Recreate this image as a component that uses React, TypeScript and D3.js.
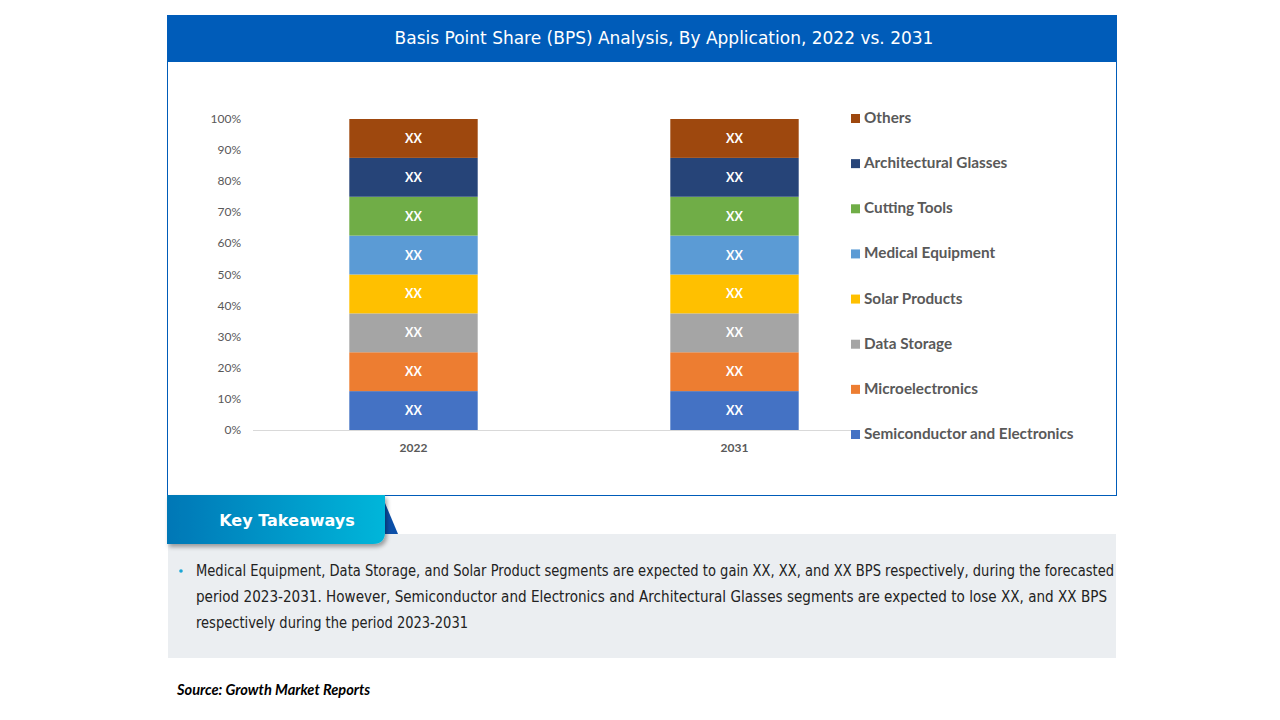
import * as d3 from "d3";

const years = ["2022", "2031"];
const segments = [
  "Semiconductor and Electronics",
  "Microelectronics",
  "Data Storage",
  "Solar Products",
  "Medical Equipment",
  "Cutting Tools",
  "Architectural Glasses",
  "Others",
];
const colors = ["#4472C4", "#ED7D31", "#A5A5A5", "#FFC000", "#5B9BD5", "#70AD47", "#264478", "#9E480E"];
// share (%) per segment, same order as segments
const share2022 = [12.5, 12.5, 12.5, 12.5, 12.5, 12.5, 12.5, 12.5];
const share2031 = [12.5, 12.5, 12.5, 12.5, 12.5, 12.5, 12.5, 12.5];
const yTicks = [0, 10, 20, 30, 40, 50, 60, 70, 80, 90, 100];

const takeawayLines = [
  "Medical Equipment, Data Storage, and Solar Product segments are expected to gain XX, XX, and XX BPS respectively, during the forecasted",
  "period 2023-2031. However, Semiconductor and Electronics and Architectural Glasses segments are expected to lose XX, and XX BPS",
  "respectively during the period 2023-2031",
];
const lineWidths = [918, 911, 272];

export default function App() {
  const rows = years.map((y, i) => {
    const vals = i === 0 ? share2022 : share2031;
    const r: any = { year: y };
    segments.forEach((s, j) => (r[s] = vals[j]));
    return r;
  });
  const stack = d3.stack().keys(segments)(rows);

  const x = d3.scaleBand().domain(years).range([253, 895]);
  const y = d3.scaleLinear().domain([0, 100]).range([430, 119]);
  const barW = x.bandwidth() * 0.4;

  const legendY = d3.scalePoint().domain([...segments].reverse()).range([118, 434]);

  const lato = "Lato, 'Noto Sans', sans-serif";
  const dv = "'DejaVu Sans', sans-serif";

  return (
    <svg width={1280} height={720} style={{ position: "absolute", left: 0, top: 0 }}>
      <defs>
        <linearGradient id="kt" x1="0" x2="1" y1="0" y2="0">
          <stop offset="0%" stopColor="#0077B6" />
          <stop offset="100%" stopColor="#00B6DA" />
        </linearGradient>
        <filter id="sh" x="-10%" y="-20%" width="130%" height="160%">
          <feDropShadow dx="2" dy="3" stdDeviation="2" floodColor="#000" floodOpacity="0.35" />
        </filter>
      </defs>
      <rect x={0} y={0} width={1280} height={720} fill="#fff" />

      {/* chart box */}
      <rect x={167.5} y={15.5} width={949} height={480} fill="#fff" stroke="#005CB9" strokeWidth={1} />
      <rect x={167} y={15} width={950} height={47} fill="#005CB9" />
      <text x={664} y={44} textAnchor="middle" fill="#fff" fontFamily={dv} fontSize={17}>
        Basis Point Share (BPS) Analysis, By Application, 2022 vs. 2031
      </text>

      {/* y ticks */}
      {yTicks.map((t) => (
        <text key={t} x={241} y={y(t) + 4} textAnchor="end" fill="#595959" fontFamily={lato} fontSize={12}>
          {t}%
        </text>
      ))}
      <line x1={253} x2={851} y1={430.5} y2={430.5} stroke="#D9D9D9" />

      {stack.map((layer, j) => (
        <g key={segments[j]}>
          {layer.map((d, i) => {
            const cx = (x(years[i]) || 0) + x.bandwidth() / 2;
            return (
              <g key={years[i]}>
                <rect x={cx - barW / 2} y={y(d[1])} width={barW} height={y(d[0]) - y(d[1])} fill={colors[j]} />
                <text x={cx} y={(y(d[0]) + y(d[1])) / 2 + 4.5} textAnchor="middle" fill="#fff"
                  fontFamily={lato} fontWeight={700} fontSize={12.5}>XX</text>
              </g>
            );
          })}
        </g>
      ))}

      {years.map((yr) => (
        <text key={yr} x={(x(yr) || 0) + x.bandwidth() / 2} y={452} textAnchor="middle" fill="#595959"
          fontFamily={lato} fontWeight={700} fontSize={12}>{yr}</text>
      ))}

      {/* legend */}
      {segments.map((s, j) => (
        <g key={s} transform={`translate(851,${legendY(s)})`}>
          <rect x={0} y={-4} width={9} height={9} fill={colors[j]} />
          <text x={13} y={5} fill="#595959" fontFamily={lato} fontWeight={700} fontSize={15.3}>{s}</text>
        </g>
      ))}

      {/* key takeaways */}
      <rect x={168} y={534} width={948} height={124} fill="#EBEEF1" />
      <path d="M385,503 L398,534 L385,534 Z" fill="#0B4FA8" />
      <path d="M167,495 H385 V532 Q385,544 373,544 H167 Z" fill="url(#kt)" filter="url(#sh)" />
      <text x={287} y={526} textAnchor="middle" fill="#fff" fontFamily={dv} fontWeight={700} fontSize={16}>
        Key Takeaways
      </text>
      <circle cx={181} cy={571} r={1.8} fill="#1AA6D6" />
      {takeawayLines.map((l, i) => (
        <text key={i} x={196} y={576 + i * 26} fill="#222" fontFamily={dv} fontSize={15}
          textLength={lineWidths[i]} lengthAdjust="spacingAndGlyphs">{l}</text>
      ))}

      <text x={177} y={695} fill="#000" fontFamily={lato} fontStyle="italic" fontWeight={700} fontSize={14.6}>
        Source: Growth Market Reports
      </text>
    </svg>
  );
}
